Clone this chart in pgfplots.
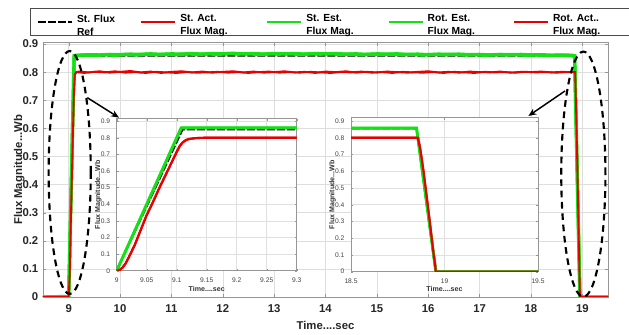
\documentclass[border=0pt]{standalone}
\usepackage{fontspec}
\setmainfont{Liberation Sans}
\usepackage{pgfplots}
\pgfplotsset{compat=1.18}
\usetikzlibrary{arrows.meta}
\definecolor{mgreen}{RGB}{20,225,20}
\definecolor{mred}{RGB}{232,0,0}
\definecolor{axgray}{RGB}{150,150,150}
\pgfplotsset{
  refstyle/.style={black, line width=1.3pt, dash pattern=on 6pt off 1.5pt},
  inset/.style={
    scale only axis, anchor=south west,
    axis background/.style={fill=white},
    ymin=0,
    ytick={0,0.1,0.2,0.3,0.4,0.5,0.6,0.7,0.8,0.9},
    yticklabels={0,0.1,0.2,0.3,0.4,0.5,0.6,0.7,0.8,0.9},
    grid=major, major grid style={black!12},
    axis line style={axgray}, tick style={axgray},
    major tick length=1.5pt,
    /pgf/number format/assume math mode=true,
    ticklabel style={font=\fontsize{5}{6}\selectfont, text=black!75},
    xticklabel style={yshift=-1.5pt},
    yticklabel style={xshift=-1.5pt},
    label style={font=\bfseries\fontsize{5.3}{6}\selectfont, text=black!80},
    ylabel={Flux Magnitude...Wb},
    xlabel={Time....sec},
  },
}
\begin{document}
\begin{tikzpicture}
\path[use as bounding box] (-32.25pt,-28.5pt) rectangle (439.5pt,222.75pt);
\begin{axis}[
  at={(0,0)}, anchor=south west, scale only axis,
  width=423.75pt, height=190.8pt,
  xmin=8.5, xmax=19.5, ymin=0, ymax=0.905,
  xtick={9,10,11,12,13,14,15,16,17,18,19},
  ytick={0,0.1,0.2,0.3,0.4,0.5,0.6,0.7,0.8,0.9},
  yticklabels={0,0.1,0.2,0.3,0.4,0.5,0.6,0.7,0.8,0.9},
  grid=major, major grid style={black!13},
  axis line style={axgray}, tick style={axgray},
  major tick length=2.5pt,
  /pgf/number format/assume math mode=true,
  ticklabel style={font=\bfseries\fontsize{8.5}{10}\selectfont, text=black!85},
  xticklabel style={yshift=-2pt},
  label style={font=\bfseries\fontsize{8.5}{10}\selectfont, text=black!85},
  xlabel={Time....sec}, ylabel={Flux Magnitude...Wb},
  xlabel style={at={(axis description cs:0.5,-0.11)}, anchor=center},
  ylabel style={at={(axis description cs:-0.042,0.5)}, anchor=center},
  legend columns=5,
  legend cell align=left,
  legend image code/.code={\draw[#1, line width=1.5pt] (0pt,0pt) -- (25.5pt,0pt);},
  legend style={at={(-0.023,1.1347)}, anchor=north west,
    draw=black!70, line width=0.5pt, inner xsep=5pt, inner ysep=4.1pt,
    font=\bfseries\fontsize{7.7}{10}\selectfont,
    nodes={inner sep=0pt},
    /tikz/every odd column/.append style={column sep=3pt},
    /tikz/every even column/.append style={column sep=0pt}},
]
% St. Flux Ref
\addplot[refstyle] coordinates {(8.5,0)(9.0,0)(9.11,0.858)(18.85,0.858)(18.955,0)(19.5,0)};
\addlegendentry{\parbox{47.5pt}{St. Flux\\Ref}}
% St. Act. Flux Mag.
\addplot[mred, line width=1.4pt] coordinates {(8.5,0)(9.0,0)(9.02,0.08)(9.05,0.335)(9.1,0.715)(9.12,0.792)(9.15,0.80)
(9.2,0.802)(9.4,0.799)(9.6,0.803)(9.8,0.798)(10.0,0.801)(10.2,0.804)(10.4,0.799)(10.6,0.802)(10.8,0.797)(11.0,0.801)
(11.2,0.803)(11.4,0.799)(11.6,0.802)(11.8,0.798)(12.0,0.801)(12.2,0.803)(12.4,0.799)(12.6,0.802)(12.8,0.798)(13.0,0.800)
(13.2,0.803)(13.4,0.799)(13.6,0.801)(13.8,0.797)(14.0,0.802)(14.2,0.800)(14.4,0.803)(14.6,0.798)(14.8,0.801)(15.0,0.799)
(15.2,0.802)(15.4,0.800)(15.6,0.798)(15.8,0.801)(16.0,0.803)(16.2,0.799)(16.4,0.801)(16.6,0.798)(16.8,0.802)(17.0,0.800)
(17.2,0.799)(17.4,0.802)(17.6,0.798)(17.8,0.801)(18.0,0.800)(18.2,0.802)(18.4,0.799)(18.6,0.801)(18.8,0.800)
(18.86,0.80)(18.9,0.49)(18.953,0)(19.5,0)};
\addlegendentry{\parbox{64.5pt}{St. Act.\\Flux Mag.}}
% St. Est. Flux Mag.
\addplot[mgreen, line width=2.5pt] coordinates {(8.5,0)(9.0,0)(9.107,0.858)
(9.2,0.860)(9.4,0.862)(9.6,0.861)(9.8,0.863)(10.0,0.862)(10.2,0.864)(10.4,0.863)(10.6,0.865)(10.8,0.863)(11.0,0.865)
(11.2,0.864)(11.4,0.866)(11.6,0.864)(11.8,0.866)(12.0,0.865)(12.2,0.867)(12.4,0.865)(12.6,0.866)(12.8,0.864)(13.0,0.866)
(13.2,0.865)(13.4,0.866)(13.6,0.864)(13.8,0.866)(14.0,0.865)(14.2,0.866)(14.4,0.864)(14.6,0.865)(14.8,0.863)(15.0,0.865)
(15.2,0.864)(15.4,0.865)(15.6,0.863)(15.8,0.864)(16.0,0.862)(16.2,0.864)(16.4,0.863)(16.6,0.864)(16.8,0.862)(17.0,0.863)
(17.2,0.861)(17.4,0.863)(17.6,0.862)(17.8,0.863)(18.0,0.861)(18.2,0.862)(18.4,0.860)(18.6,0.861)(18.8,0.860)
(18.85,0.858)(18.955,0)(19.5,0)};
\addlegendentry{\parbox{61pt}{St. Est.\\Flux Mag.}}
% Rot. Est. Flux Mag.
\addplot[mgreen, line width=2.5pt] coordinates {(8.5,0)(9.0,0.002)(9.108,0.859)
(9.3,0.861)(9.5,0.859)(9.7,0.862)(9.9,0.860)(10.1,0.863)(10.3,0.861)(10.5,0.864)(10.7,0.862)(10.9,0.864)(11.1,0.862)
(11.3,0.865)(11.5,0.863)(11.7,0.865)(11.9,0.863)(12.1,0.866)(12.3,0.864)(12.5,0.865)(12.7,0.863)(12.9,0.865)(13.1,0.864)
(13.3,0.865)(13.5,0.863)(13.7,0.865)(13.9,0.864)(14.1,0.865)(14.3,0.863)(14.5,0.864)(14.7,0.862)(14.9,0.864)(15.1,0.863)
(15.3,0.864)(15.5,0.862)(15.7,0.863)(15.9,0.861)(16.1,0.863)(16.3,0.862)(16.5,0.863)(16.7,0.861)(16.9,0.862)(17.1,0.860)
(17.3,0.862)(17.5,0.861)(17.7,0.862)(17.9,0.860)(18.1,0.861)(18.3,0.859)(18.5,0.860)(18.7,0.859)
(18.85,0.857)(18.953,0)(19.5,0)};
\addlegendentry{\parbox{64pt}{Rot. Est.\\Flux Mag.}}
% Rot. Act.. Flux Mag.
\addplot[mred, line width=1.4pt] coordinates {(8.5,0)(9.0,0)(9.02,0.08)(9.05,0.335)(9.1,0.715)(9.12,0.792)(9.15,0.80)
(9.3,0.797)(9.5,0.801)(9.7,0.799)(9.9,0.803)(10.1,0.798)(10.3,0.800)(10.5,0.797)(10.7,0.801)(10.9,0.799)(11.1,0.797)
(11.3,0.800)(11.5,0.798)(11.7,0.799)(11.9,0.801)(12.1,0.798)(12.3,0.800)(12.5,0.797)(12.7,0.800)(12.9,0.802)(13.1,0.798)
(13.3,0.800)(13.5,0.798)(13.7,0.801)(13.9,0.799)(14.1,0.797)(14.3,0.800)(14.5,0.799)(14.7,0.802)(14.9,0.798)(15.1,0.800)
(15.3,0.797)(15.5,0.801)(15.7,0.799)(15.9,0.798)(16.1,0.800)(16.3,0.797)(16.5,0.801)(16.7,0.799)(16.9,0.797)(17.1,0.801)
(17.3,0.799)(17.5,0.800)(17.7,0.798)(17.9,0.801)(18.1,0.799)(18.3,0.800)(18.5,0.798)(18.7,0.800)
(18.86,0.80)(18.87,0.735)(18.88,0.66)(18.89,0.58)(18.9,0.49)(18.91,0.40)(18.92,0.31)(18.93,0.215)(18.94,0.12)(18.95,0.04)(18.953,0)(19.5,0)};
\addlegendentry{\parbox{60pt}{Rot. Act..\\Flux Mag.}}
% annotations
\draw[black, line width=1.6pt, dash pattern=on 5pt off 3.5pt] (axis cs:9.02,0.443) ellipse [x radius=0.41, y radius=0.432];
\draw[black, line width=1.6pt, dash pattern=on 5pt off 3.5pt] (axis cs:19.02,0.437) ellipse [x radius=0.43, y radius=0.436];
\draw[black, line width=1.1pt, -{Stealth[length=6pt,width=5pt]}] (axis cs:9.363,0.709) -- (axis cs:9.98,0.638);
\draw[black, line width=1.1pt, -{Stealth[length=6pt,width=5pt]}] (axis cs:18.664,0.733) -- (axis cs:17.95,0.644);
\end{axis}
% inset 1
\begin{axis}[inset, at={(55.3pt,19.7pt)}, width=135pt, height=114.1pt,
  xmin=9, xmax=9.3, ymax=0.915,
  xtick={9,9.05,9.1,9.15,9.2,9.25,9.3},
  xticklabels={9,9.05,9.1,9.15,9.2,9.25,9.3},
  xlabel style={at={(axis description cs:0.5,-0.123)}, anchor=center},
  ylabel style={at={(axis description cs:-0.102,0.5)}, anchor=center},
]
\addplot[refstyle, line width=1.2pt] coordinates {(8.9,0)(9.0,0)(9.11,0.849)(9.4,0.849)};
\addplot[mred, line width=1.6pt] coordinates {(8.9,0)(9.0,0)(9.005,0.005)(9.01,0.02)(9.015,0.045)(9.02,0.08)(9.03,0.155)(9.04,0.245)(9.05,0.335)(9.06,0.41)(9.07,0.49)(9.08,0.565)(9.09,0.64)(9.1,0.715)(9.105,0.75)(9.11,0.772)(9.115,0.785)(9.12,0.792)(9.13,0.797)(9.14,0.799)(9.15,0.80)(9.4,0.80)};
\addplot[mgreen, line width=2pt] coordinates {(8.9,0)(9.0,0)(9.107,0.858)(9.4,0.858)};
\addplot[mgreen, line width=2pt] coordinates {(8.9,0)(9.0,0.002)(9.108,0.86)(9.4,0.86)};
\addplot[mred, line width=1.6pt] coordinates {(8.9,0)(9.0,0)(9.005,0.005)(9.01,0.02)(9.015,0.045)(9.02,0.08)(9.03,0.155)(9.04,0.245)(9.05,0.335)(9.06,0.41)(9.07,0.49)(9.08,0.565)(9.09,0.64)(9.1,0.715)(9.105,0.75)(9.11,0.772)(9.115,0.785)(9.12,0.792)(9.13,0.797)(9.14,0.799)(9.15,0.80)(9.4,0.80)};
\end{axis}
% inset 2
\begin{axis}[inset, at={(231pt,19pt)}, width=140.25pt, height=115.5pt,
  xmin=18.5, xmax=19.5, ymax=0.92,
  xtick={18.5,19,19.5}, xticklabels={18.5,19,19.5},
  xlabel style={at={(axis description cs:0.5,-0.114)}, anchor=center},
  ylabel style={at={(axis description cs:-0.098,0.5)}, anchor=center},
]
\addplot[refstyle, line width=1.2pt] coordinates {(18.4,0.855)(18.85,0.855)(18.952,0)(19.6,0)};
\addplot[mred, line width=1.6pt] coordinates {(18.4,0.80)(18.86,0.80)(18.87,0.735)(18.88,0.66)(18.89,0.58)(18.9,0.49)(18.91,0.40)(18.92,0.31)(18.93,0.215)(18.94,0.12)(18.95,0.04)(18.953,0)(19.6,0)};
\addplot[mgreen, line width=2pt] coordinates {(18.4,0.858)(18.85,0.858)(18.955,0)(19.6,0)};
\addplot[mgreen, line width=2pt] coordinates {(18.4,0.857)(18.851,0.857)(18.953,0)(19.6,0)};
\addplot[mred, line width=1.6pt] coordinates {(18.4,0.80)(18.857,0.80)(18.87,0.735)(18.88,0.66)(18.89,0.58)(18.9,0.49)(18.91,0.40)(18.92,0.31)(18.93,0.215)(18.94,0.12)(18.95,0.04)(18.953,0)(19.6,0)};
\end{axis}
\end{tikzpicture}
\end{document}
